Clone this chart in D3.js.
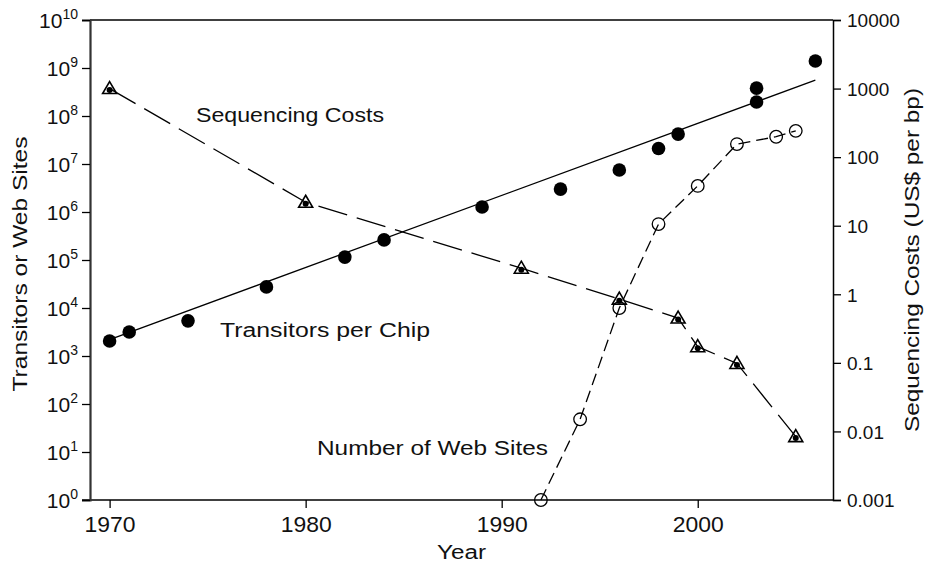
<!DOCTYPE html>
<html>
<head>
<meta charset="utf-8">
<script src="https://cdn.jsdelivr.net/npm/d3@7"></script>
<style>
  html, body { margin: 0; padding: 0; background: #fff; }
  svg { display: block; font-family: "Liberation Sans", Arial, sans-serif; }
</style>
</head>
<body>
<svg id="chart" width="925" height="563"></svg>
<script>
// ---- Data ----
const chipYears = [1970, 1971, 1974, 1978, 1982, 1984, 1989, 1993, 1996, 1998, 1999, 2003, 2003, 2006];
const chipCounts = [2050, 3160, 5400, 27500, 115000, 262000, 1.27e6, 3.0e6, 7.5e6, 2.1e7, 4.2e7, 1.96e8, 3.8e8, 1.4e9];
const fitYears = [1970, 2006];
const fitCounts = [2200, 5.6e8];
const seqYears = [1970, 1980, 1991, 1996, 1999, 2000, 2002, 2005];
const seqCosts = [1000, 22, 2.4, 0.85, 0.45, 0.172, 0.098, 0.0084];
const webYears = [1992, 1994, 1996, 1998, 2000, 2002, 2004, 2005];
const webSites = [1, 48, 10000, 560000, 3.5e6, 2.6e7, 3.7e7, 4.9e7];
const xTicks = [1970, 1980, 1990, 2000];
const leftExps = [0, 1, 2, 3, 4, 5, 6, 7, 8, 9, 10];
const rightTicks = [0.001, 0.01, 0.1, 1, 10, 100, 1000, 10000];
const rightTickLabels = ["0.001", "0.01", "0.1", "1", "10", "100", "1000", "10000"];

// ---- Layout ----
const L = 90, R = 833, T = 20, B = 500;
const svg = d3.select("#chart");
const x = d3.scaleLinear().domain([1969, 2006.9]).range([L, R]);
const yL = d3.scaleLog().domain([1, 1e10]).range([B, T]);
const yR = d3.scaleLog().domain([0.001, 10000]).range([B, T]);

// ---- Frame ----
svg.append("line").attr("x1", L).attr("x2", R).attr("y1", T).attr("y2", T)
  .attr("stroke", "#000").attr("stroke-width", 1.5);

// x axis
const xAxis = svg.append("g").attr("transform", `translate(0,${B})`)
  .call(d3.axisBottom(x).tickValues(xTicks).tickFormat(d3.format("d")).tickSize(8).tickSizeOuter(0));
xAxis.select(".domain").remove();
xAxis.append("line").attr("x1", L - 8).attr("x2", R).attr("stroke", "#000").attr("stroke-width", 1.5);
xAxis.selectAll(".tick line").attr("stroke", "#000").attr("stroke-width", 1.3);
xAxis.selectAll(".tick text").attr("font-size", 22).attr("fill", "#111")
  .attr("font-family", "Liberation Sans, Arial, sans-serif").attr("dy", "0.71em").attr("y", 16)
  .attr("textLength", 51).attr("lengthAdjust", "spacingAndGlyphs");

// left axis
const yAxisL = svg.append("g").attr("transform", `translate(${L},0)`)
  .call(d3.axisLeft(yL).tickValues(leftExps.map(e => Math.pow(10, e))).tickSize(8).tickFormat(""));
yAxisL.select(".domain").attr("stroke", "#333").attr("stroke-width", 2.2);
yAxisL.selectAll(".tick line").attr("stroke", "#000").attr("stroke-width", 1.3);
const leftLab = svg.append("g");
leftExps.forEach(e => {
  const t = leftLab.append("text").attr("x", 78).attr("y", yL(Math.pow(10, e)) + 8)
    .attr("text-anchor", "end").attr("font-size", 21).attr("fill", "#111");
  t.append("tspan").text("10");
  t.append("tspan").attr("font-size", 14).attr("dy", -9).text(String(e));
});

// right axis
const yAxisR = svg.append("g").attr("transform", `translate(${R},0)`)
  .call(d3.axisRight(yR).tickValues(rightTicks).tickSize(8).tickFormat((d, i) => rightTickLabels[i]));
yAxisR.select(".domain").attr("stroke", "#000").attr("stroke-width", 1.5);
yAxisR.selectAll(".tick line").attr("stroke", "#000").attr("stroke-width", 1.3);
yAxisR.selectAll(".tick text").attr("font-size", 19).attr("fill", "#111")
  .attr("font-family", "Liberation Sans, Arial, sans-serif").attr("x", 14).attr("dy", "0.36em");

// ---- Lines ----
const lineL = d3.line().x(d => x(d[0])).y(d => yL(d[1]));
const lineR = d3.line().x(d => x(d[0])).y(d => yR(d[1]));

svg.append("path").datum(fitYears.map((y, i) => [y, fitCounts[i]]))
  .attr("d", lineL).attr("fill", "none").attr("stroke", "#000").attr("stroke-width", 1.3);

svg.append("path").datum(seqYears.map((y, i) => [y, seqCosts[i]]))
  .attr("d", lineR).attr("fill", "none").attr("stroke", "#000").attr("stroke-width", 1.3)
  .attr("stroke-dasharray", "30,10");

svg.append("path").datum(webYears.map((y, i) => [y, webSites[i]]))
  .attr("d", lineL).attr("fill", "none").attr("stroke", "#000").attr("stroke-width", 1.3)
  .attr("stroke-dasharray", "12,6");

// ---- Markers ----
svg.append("g").selectAll("circle").data(chipYears.map((y, i) => [y, chipCounts[i]]))
  .join("circle").attr("cx", d => x(d[0])).attr("cy", d => yL(d[1])).attr("r", 6.8)
  .attr("fill", "#000");

svg.append("g").selectAll("circle").data(webYears.map((y, i) => [y, webSites[i]]))
  .join("circle").attr("cx", d => x(d[0])).attr("cy", d => yL(d[1])).attr("r", 6.3)
  .attr("fill", "none").attr("stroke", "#000").attr("stroke-width", 1.3);

const tri = svg.append("g").selectAll("g").data(seqYears.map((y, i) => [y, seqCosts[i]]))
  .join("g").attr("transform", d => `translate(${x(d[0])},${yR(d[1])})`);
tri.append("path").attr("d", "M0,-7 L7,5 L-7,5 Z").attr("fill", "none")
  .attr("stroke", "#000").attr("stroke-width", 1.6);
tri.append("circle").attr("cy", 1.5).attr("r", 3).attr("fill", "#000");

// ---- Annotations ----
const ann = [
  { text: "Sequencing Costs", x: 196, y: 122, w: 188 },
  { text: "Transitors per Chip", x: 220, y: 337, w: 210 },
  { text: "Number of Web Sites", x: 317, y: 455, w: 231 }
];
svg.append("g").selectAll("text").data(ann).join("text")
  .attr("x", d => d.x).attr("y", d => d.y).attr("font-size", 20).attr("fill", "#111")
  .attr("textLength", d => d.w).attr("lengthAdjust", "spacingAndGlyphs").text(d => d.text);

// ---- Axis titles ----
svg.append("text").attr("x", 461.5).attr("y", 559).attr("text-anchor", "middle")
  .attr("font-size", 20).attr("fill", "#111").attr("textLength", 49).attr("lengthAdjust", "spacingAndGlyphs").text("Year");

svg.append("text").attr("transform", "translate(27,264) rotate(-90)").attr("text-anchor", "middle")
  .attr("font-size", 21).attr("fill", "#111").attr("textLength", 255).attr("lengthAdjust", "spacingAndGlyphs")
  .text("Transitors or Web Sites");

svg.append("text").attr("transform", "translate(919,260) rotate(-90)").attr("text-anchor", "middle")
  .attr("font-size", 20).attr("fill", "#111").attr("textLength", 344).attr("lengthAdjust", "spacingAndGlyphs")
  .text("Sequencing Costs (US$ per bp)");
</script>
</body>
</html>
